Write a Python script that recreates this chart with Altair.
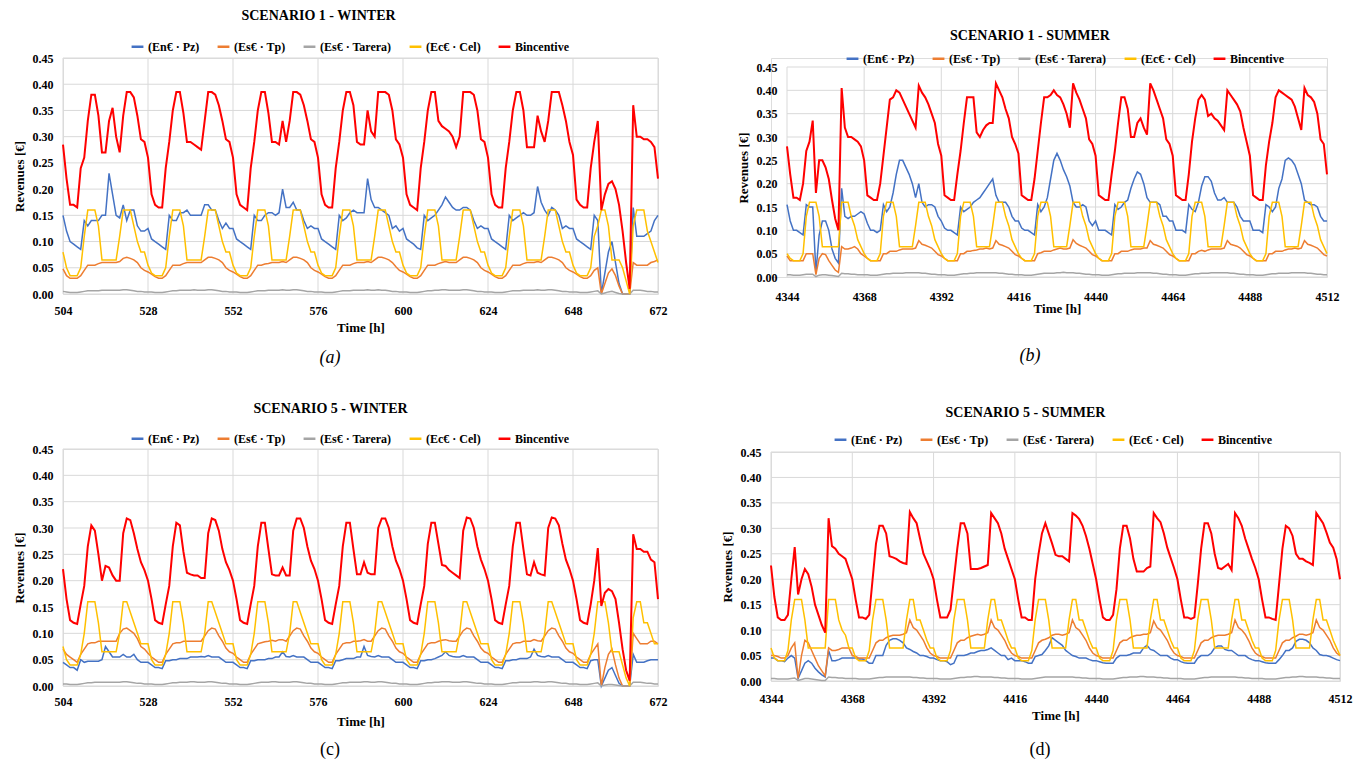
import altair as alt
import pandas as pd

FONT = "Liberation Serif"
SERIES = ["(En€ · Pz)", "(Es€ · Tp)", "(Es€ · Tarera)", "(Ec€ · Cel)", "Bincentive"]
COLORS = ["#4472C4", "#ED7D31", "#A5A5A5", "#FFC000", "#FF0000"]
Y_TICKS = [0.0, 0.05, 0.10, 0.15, 0.20, 0.25, 0.30, 0.35, 0.40, 0.45]
WINTER_TICKS = [504, 528, 552, 576, 600, 624, 648, 672]
SUMMER_TICKS = [4344, 4368, 4392, 4416, 4440, 4464, 4488, 4512]
GRID = "#D9D9D9"

# hourly values, in thousandths of EUR (one row per day, last row ends with the closing hour)
# ---------------- Scenario 1 - Winter ----------------
A_PZ = [
    150,120,100,95,90,85,140,130,140,140,140,150,150,230,190,150,145,170,140,160,160,130,120,120,
    125,105,100,95,90,85,150,140,140,155,155,160,150,150,150,150,170,170,160,160,140,125,135,125,
    125,105,100,95,90,85,150,140,140,150,155,155,150,155,200,165,165,175,160,160,140,125,130,125,
    125,105,100,95,90,85,150,140,145,155,160,155,155,155,220,180,165,165,160,155,150,125,130,120,
    125,105,100,95,88,85,150,140,145,150,160,170,185,175,165,160,160,165,165,160,140,125,130,125,
    125,105,100,95,90,85,150,140,145,150,155,150,150,155,205,175,160,150,165,160,150,125,130,125,
    125,105,100,95,90,85,150,140,0,40,80,100,60,20,0,0,0,165,110,110,110,115,120,140,150]
A_TP = [
    48,35,30,30,30,35,45,55,55,55,58,60,60,60,60,60,62,68,70,68,65,60,50,45,
    42,38,33,30,30,35,45,55,55,55,58,60,60,60,60,60,65,70,70,68,65,60,50,45,
    42,38,33,30,30,35,45,55,55,57,58,60,60,60,62,60,65,70,70,68,65,60,50,45,
    42,38,33,30,30,35,45,55,55,55,58,60,60,60,62,60,65,70,70,68,65,60,52,45,
    42,38,33,30,30,35,45,55,55,55,58,60,62,60,60,60,65,70,70,68,65,60,50,45,
    42,38,33,30,30,35,45,55,55,55,58,60,60,60,62,60,65,70,70,68,65,60,50,45,
    42,38,33,30,30,35,45,50,0,20,40,48,35,15,0,0,0,60,55,55,55,55,60,62,65]
A_TAR = [
    5,4,3,3,3,4,5,6,6,6,6,7,7,7,7,7,7,8,8,7,6,5,5,4,
    4,4,3,3,3,4,5,6,6,7,7,7,7,8,7,7,7,8,8,7,6,5,5,4,
    4,4,3,3,3,4,5,6,6,6,7,7,7,7,8,7,7,8,8,7,6,5,5,4,
    4,4,3,3,3,4,5,6,6,6,7,7,7,7,8,7,7,8,7,7,6,5,5,4,
    4,4,3,3,3,4,5,6,6,7,7,8,8,7,7,7,7,8,8,7,6,5,5,4,
    4,4,3,3,3,4,5,6,6,6,7,7,7,7,8,7,7,8,8,7,6,5,5,4,
    4,4,3,3,3,4,5,6,0,2,4,5,3,1,0,0,0,7,7,7,6,5,5,4,4]
A_CEL = [
    80,50,35,35,35,50,110,160,160,160,130,65,65,65,65,65,110,160,160,160,130,100,80,80,
    55,40,35,35,35,50,110,160,160,160,130,65,65,65,65,65,110,160,160,160,130,100,80,80,
    55,40,35,35,35,50,110,160,160,160,130,65,65,65,65,65,110,160,160,160,130,100,80,80,
    55,40,35,35,35,50,110,160,160,160,130,65,65,65,65,65,110,160,160,160,130,100,80,80,
    55,40,35,35,35,50,110,160,160,160,130,65,65,65,65,65,110,160,160,160,130,100,80,80,
    55,40,35,35,35,50,110,160,160,160,130,65,65,65,65,65,110,160,160,160,130,100,80,80,
    55,40,35,35,35,50,110,130,160,160,130,65,65,65,50,25,0,130,160,160,160,120,100,80,60]
A_BIN = [
    285,220,170,170,165,240,260,330,380,380,340,270,270,330,355,300,270,340,385,385,375,340,295,290,
    260,190,170,165,165,240,290,350,385,385,345,290,290,285,280,275,330,385,385,380,360,330,295,290,
    260,190,170,165,160,240,290,350,385,385,345,290,290,285,330,290,330,385,385,380,360,330,295,290,
    260,190,170,165,165,240,290,350,385,385,360,290,285,285,350,310,300,385,385,385,380,350,295,285,
    260,190,170,165,160,240,290,350,385,385,330,320,315,310,300,280,300,385,385,385,380,350,295,290,
    260,190,170,165,165,240,290,350,385,385,350,280,280,280,340,310,290,330,385,385,385,360,330,290,
    265,180,170,165,165,240,290,330,160,190,210,215,200,170,120,60,10,360,300,300,295,295,290,280,220]

# ---------------- Scenario 1 - Summer ----------------
B_PZ = [
    155,120,100,100,95,90,155,150,150,10,90,120,120,100,60,40,30,190,130,125,130,130,135,140,
    135,115,100,100,95,100,155,140,150,180,220,250,250,235,220,200,170,200,160,150,155,155,150,130,
    120,105,100,100,95,90,150,140,145,150,160,165,170,180,190,200,210,175,160,160,160,150,130,120,
    120,105,100,100,95,90,155,140,150,170,210,250,265,250,230,215,195,160,150,150,155,150,120,110,
    120,100,100,100,95,90,155,145,150,160,165,190,210,225,220,200,170,160,160,160,155,130,130,120,
    120,100,100,100,95,155,145,140,160,195,215,215,205,180,165,165,170,160,160,160,150,130,120,120,
    120,100,100,100,95,155,150,140,150,190,210,250,255,250,240,220,200,165,160,155,155,150,130,120,120]
B_TP = [
    45,35,35,35,35,35,50,50,50,5,40,50,48,35,25,15,10,65,60,60,62,65,60,50,
    45,40,35,35,35,35,50,50,55,55,55,58,60,60,60,60,62,78,70,68,65,62,55,48,
    45,40,35,35,35,35,50,50,55,55,57,58,60,60,62,60,62,78,70,68,65,62,55,48,
    45,40,35,35,35,35,50,52,55,55,55,58,60,62,60,60,62,80,72,68,65,62,55,48,
    45,40,35,35,35,35,50,50,55,55,55,58,60,60,60,62,62,78,70,68,65,62,55,48,
    45,40,35,35,35,35,50,50,55,57,55,58,60,60,60,60,62,78,70,68,66,62,55,48,
    45,40,35,35,35,35,50,50,55,55,55,58,60,60,62,60,62,78,70,68,65,62,55,48,45]
B_TAR = [
    5,5,4,4,4,5,6,6,6,1,4,5,5,4,3,2,1,8,7,7,6,6,5,5,
    5,5,4,4,4,5,6,7,7,8,8,8,8,9,9,9,9,9,8,8,7,6,6,5,
    5,5,4,4,4,5,6,7,7,8,8,9,9,9,9,9,9,9,8,8,7,6,6,5,
    5,5,4,4,4,5,6,7,8,8,8,8,9,9,10,9,9,9,8,8,7,6,6,5,
    5,5,4,4,4,5,6,7,7,8,8,8,8,9,9,9,9,9,8,8,7,6,6,5,
    5,5,4,4,4,5,6,7,7,8,8,8,9,9,9,9,9,9,8,8,7,6,6,5,
    5,5,4,4,4,5,6,7,7,8,8,8,8,9,9,9,9,9,8,8,7,6,6,5,5]
B_CEL = [
    50,40,35,35,35,50,130,160,160,160,130,65,65,65,65,65,65,160,160,160,130,110,80,65,
    50,40,35,35,35,50,130,160,160,160,130,65,65,65,65,65,110,160,160,160,130,110,80,65,
    50,40,35,35,35,50,130,160,160,160,130,65,65,65,65,65,110,160,160,160,130,110,80,65,
    50,40,35,35,35,50,130,160,160,160,130,65,65,65,65,65,110,160,160,160,130,110,80,65,
    50,40,35,35,35,50,130,160,160,160,130,65,65,65,65,65,110,160,160,160,130,110,80,65,
    50,40,35,35,35,50,130,160,160,160,130,65,65,65,65,65,110,160,160,160,130,110,80,65,
    50,40,35,35,35,50,130,160,160,160,130,65,65,65,65,65,110,160,160,160,130,110,80,65,50]
B_BIN = [
    280,220,170,170,165,200,270,290,335,180,250,250,235,210,165,125,100,405,320,300,300,295,290,280,
    250,175,170,165,165,200,260,320,380,385,400,395,380,365,350,335,320,410,395,385,370,350,330,285,
    260,175,170,165,165,220,270,330,385,385,385,310,300,315,325,330,330,415,400,385,360,340,300,285,
    265,175,170,165,165,210,270,330,385,385,390,400,390,385,370,350,320,415,395,380,360,340,295,285,
    260,175,170,165,165,220,270,330,385,385,360,300,300,330,340,320,305,415,400,380,360,340,295,285,
    260,175,170,165,165,220,290,340,380,390,380,345,350,340,335,325,315,400,390,380,370,355,320,290,
    260,175,170,165,165,240,290,330,385,400,395,390,385,380,365,340,315,405,390,385,375,350,295,285,220]

# ---------------- Scenario 5 - Winter ----------------
C_PZ = [
    45,40,35,35,30,50,45,47,47,47,47,50,75,65,55,55,55,60,55,55,60,50,45,45,
    45,40,35,35,33,48,48,50,50,52,52,52,55,55,55,56,55,58,55,55,55,50,45,45,
    45,40,35,35,33,48,48,50,50,50,52,52,55,55,65,56,55,58,55,55,55,50,45,45,
    45,40,35,35,33,48,48,50,52,52,52,55,55,75,58,56,55,58,55,55,55,50,45,45,
    45,40,35,35,33,48,48,50,50,52,55,58,65,58,56,55,55,58,55,55,55,50,45,45,
    45,40,35,35,33,48,48,50,50,52,52,52,55,70,58,56,55,58,55,55,55,50,45,45,
    45,40,35,35,33,48,50,50,0,15,30,35,20,5,0,0,0,60,45,45,45,48,50,50,50]
C_TP = [
    70,60,55,50,45,60,70,80,82,82,85,85,85,85,85,85,100,108,110,105,100,90,75,70,
    62,55,50,45,45,60,70,80,82,82,85,85,85,85,85,85,95,105,110,108,95,85,72,65,
    62,55,50,45,45,60,70,80,82,84,85,87,85,88,88,85,95,105,110,108,95,85,72,65,
    62,55,50,45,45,60,70,80,82,82,85,85,86,88,85,85,95,105,110,108,95,85,72,65,
    62,55,50,45,45,60,70,80,82,82,85,87,88,86,85,85,95,105,110,108,95,85,72,65,
    62,55,50,45,45,60,70,80,82,82,85,85,85,88,86,85,95,105,110,108,95,85,72,65,
    62,55,50,45,45,60,70,80,0,35,60,70,40,15,0,0,0,100,90,80,80,80,85,85,80]
C_TAR = [
    4,4,3,3,3,4,5,6,6,7,7,7,7,7,7,7,7,8,8,7,6,5,5,4,
    4,4,3,3,3,4,5,6,6,7,7,7,8,8,7,7,7,8,8,7,6,5,5,4,
    4,4,3,3,3,4,5,6,7,7,7,8,8,7,7,7,7,8,8,7,6,5,5,4,
    4,4,3,3,3,4,5,6,6,7,7,7,7,8,8,7,7,8,8,7,6,5,5,4,
    4,4,3,3,3,4,5,6,6,7,7,8,8,8,7,7,7,8,8,7,6,5,5,4,
    4,4,3,3,3,4,5,6,6,7,7,7,7,8,8,7,7,8,8,7,6,5,5,4,
    4,4,3,3,3,4,5,6,0,2,3,3,2,1,0,0,0,7,7,7,6,5,5,4,4]
C_CEL = [
    75,50,40,40,40,60,100,160,160,160,120,65,65,65,65,65,100,160,160,140,120,100,80,80,
    80,50,40,40,40,60,100,160,160,160,120,65,65,65,65,65,100,160,160,140,120,100,80,80,
    80,50,40,40,40,60,100,160,160,160,120,65,65,65,65,65,100,160,160,140,120,100,80,80,
    80,50,40,40,40,60,100,160,160,160,120,65,65,65,65,65,100,160,160,140,120,100,80,80,
    80,50,40,40,40,60,100,160,160,160,120,65,65,65,65,65,100,160,160,140,120,100,80,80,
    80,50,40,40,40,60,100,160,160,160,120,65,65,65,65,65,100,160,160,140,120,100,80,80,
    80,50,40,40,40,60,100,160,160,160,120,65,65,65,40,15,0,130,160,160,120,120,100,80,80]
C_BIN = [
    222,165,125,120,118,155,190,265,305,295,250,200,228,225,210,200,200,290,318,315,290,260,235,220,
    200,165,125,120,118,155,190,265,310,305,255,215,212,210,210,205,205,290,318,315,295,260,235,220,
    200,165,125,120,118,155,190,265,310,310,260,212,210,210,225,210,210,295,318,318,300,265,238,222,
    200,165,125,120,118,155,190,265,310,310,260,212,212,235,215,212,212,300,318,318,300,265,238,222,
    200,165,125,120,118,155,190,270,310,310,270,230,228,220,215,210,205,295,320,318,300,265,240,222,
    200,165,125,120,118,155,190,265,310,310,260,212,210,235,215,212,210,300,320,318,305,270,240,222,
    200,165,125,120,118,155,200,262,152,177,184,180,165,120,70,30,10,288,260,260,255,255,240,235,165]

# ---------------- Scenario 5 - Summer ----------------
D_PZ = [
    45,45,40,40,38,45,50,45,5,20,35,40,35,25,18,12,8,60,40,40,42,45,45,45,
    45,45,43,43,40,35,35,50,50,50,70,80,83,83,80,75,65,62,58,55,50,50,48,45,
    45,42,40,40,38,32,35,50,50,50,52,55,55,58,60,60,62,65,60,55,50,50,42,45,
    40,40,40,38,35,35,48,50,52,60,69,85,80,75,70,60,55,50,48,45,45,45,42,40,
    40,38,36,35,35,35,45,50,50,50,52,55,55,55,65,70,62,60,55,50,50,50,45,42,
    42,38,36,35,35,35,45,50,50,50,55,65,69,69,62,60,60,55,50,50,50,45,42,40,
    40,38,36,35,35,35,42,50,60,60,65,78,82,82,80,75,65,60,52,50,50,48,45,42,40]
D_TP = [
    50,50,48,45,45,50,65,75,5,50,80,75,60,45,30,20,10,65,60,60,62,65,65,65,
    50,48,45,45,45,45,60,75,80,80,85,88,90,90,90,92,95,120,105,100,90,80,65,55,
    50,48,45,45,45,45,60,75,80,80,85,88,90,92,90,92,95,120,105,100,90,80,65,55,
    50,48,45,45,45,45,60,75,80,82,85,90,92,92,90,92,95,120,105,100,90,80,65,55,
    50,48,45,45,45,45,60,75,80,80,85,88,90,90,92,92,95,118,105,100,90,80,65,55,
    50,48,45,45,45,45,60,75,80,80,85,88,90,90,90,92,95,120,105,100,92,80,65,55,
    50,48,45,45,45,45,60,75,80,80,85,88,92,92,90,92,95,120,105,100,90,80,65,55,50]
D_TAR = [
    5,5,4,4,4,4,5,6,1,3,5,5,4,3,2,1,1,8,7,7,6,6,5,5,
    5,5,4,4,4,4,5,6,7,7,8,8,8,8,8,8,8,8,7,7,6,6,5,5,
    5,5,4,4,4,4,5,6,7,7,8,8,9,9,8,8,8,8,7,7,6,6,5,5,
    5,5,4,4,4,4,5,6,7,8,8,8,8,8,8,8,8,8,7,7,6,6,5,5,
    5,5,4,4,4,4,5,6,7,7,8,8,8,9,9,8,8,8,7,7,6,6,5,5,
    5,5,4,4,4,4,5,6,7,7,8,8,8,8,8,8,8,8,7,7,6,6,5,5,
    5,5,4,4,4,4,5,6,7,7,8,8,9,9,8,8,8,8,7,7,6,6,5,5,5]
D_CEL = [
    65,45,40,40,40,60,120,160,160,160,120,65,65,65,65,65,65,160,160,160,120,100,90,65,
    65,45,40,40,40,60,120,160,160,160,120,65,65,65,65,65,120,160,160,120,120,100,80,65,
    65,45,40,40,40,60,120,160,160,160,120,65,65,65,65,65,120,160,160,120,120,100,80,65,
    65,45,40,40,40,60,120,160,160,160,120,65,65,65,65,65,120,160,160,120,120,100,80,65,
    65,45,40,40,40,60,120,160,160,160,120,65,65,65,65,65,120,160,160,120,120,100,80,65,
    65,45,40,40,40,60,120,160,160,160,120,65,65,65,65,65,120,160,160,120,120,100,80,65,
    65,45,40,40,40,60,120,160,160,160,120,65,65,65,65,65,120,160,160,120,120,100,80,65,50]
D_BIN = [
    227,165,125,120,120,130,200,263,170,200,220,210,185,150,130,110,95,320,265,260,250,245,240,220,
    200,160,125,125,122,130,200,270,305,305,290,245,243,240,235,232,230,332,320,310,280,250,235,220,
    200,160,125,125,125,140,200,260,310,310,290,220,220,220,222,225,228,330,320,310,290,260,240,220,
    200,160,125,125,120,120,200,250,290,310,290,270,248,245,245,240,235,330,325,318,305,285,260,230,
    200,160,125,120,120,130,180,260,305,305,280,240,215,215,215,222,225,330,320,312,290,262,242,222,
    200,160,125,125,122,125,190,260,310,310,290,250,222,220,225,230,218,330,320,305,280,260,240,222,
    200,160,125,125,122,120,190,260,305,300,285,250,240,240,235,232,228,330,320,310,292,272,262,240,200]


def make_panel(ticks, series, title, caption, italic, w, h, lx, ly, cx, cy, toff, tdx,
               xlp, xtp, ytop=0.45, lband=0):
    """lband: empty pixels to the left of the first tick."""
    rows = []
    for name, vals in zip(SERIES, series):
        assert len(vals) == 169, (title, name, len(vals))
        for i, v in enumerate(vals):
            rows.append({"hour": ticks[0] + i, "value": v / 1000.0, "series": name})
    df = pd.DataFrame(rows)
    span = ticks[-1] - ticks[0]
    x_lo = ticks[0] - span * lband / w
    tw = w + lband

    color = alt.Color(
        "series:N",
        scale=alt.Scale(domain=SERIES, range=COLORS),
        legend=alt.Legend(
            title=None, orient="none", legendX=lx, legendY=ly, direction="horizontal",
            columns=5, symbolType="stroke", symbolStrokeWidth=2.5, symbolSize=140,
            labelFont=FONT, labelFontSize=12, labelFontWeight="bold", labelColor="black",
            columnPadding=12, labelOffset=3, padding=0,
        ),
    )
    xscale = alt.Scale(domain=[x_lo, ticks[-1]], nice=False, zero=False)
    xaxis = alt.Axis(
        values=ticks, format="d", title="Time [h]", titleFont=FONT, titleFontSize=13,
        titleFontWeight="bold", titleColor="black", titlePadding=xtp,
        titleX=lband + w / 2,
        labelFont=FONT, labelFontSize=12, labelFontWeight="bold", labelColor="black",
        labelPadding=xlp, labelFlush=False, ticks=False, grid=False, domain=False,
    )
    yscale = alt.Scale(domain=[0, ytop], nice=False)
    yaxis = alt.Axis(
        values=Y_TICKS, format=".2f", title="Revenues [€]", titleFont=FONT,
        titleFontSize=13, titleFontWeight="bold", titleColor="black", titlePadding=6,
        labelFont=FONT, labelFontSize=12, labelFontWeight="bold", labelColor="black",
        labelPadding=10 - lband, ticks=False, domain=False, grid=False,
    )
    x = alt.X("hour:Q", scale=xscale, axis=xaxis)
    y = alt.Y("value:Q", scale=yscale, axis=yaxis)

    # gridlines drawn as rules, limited to the tick range
    vdf = pd.DataFrame({"hour": ticks, "lo": [Y_TICKS[0]] * len(ticks), "hi": [Y_TICKS[-1]] * len(ticks)})
    vgrid = alt.Chart(vdf).mark_rule(color=GRID, strokeWidth=1).encode(
        x=x, y=alt.Y("lo:Q", scale=yscale, axis=yaxis), y2=alt.Y2("hi:Q"))
    hdf = pd.DataFrame({"v": Y_TICKS, "x0": [ticks[0]] * len(Y_TICKS), "x1": [ticks[-1]] * len(Y_TICKS)})
    hgrid = alt.Chart(hdf).mark_rule(color=GRID, strokeWidth=1).encode(
        y=alt.Y("v:Q", scale=yscale, axis=yaxis), x=alt.X("x0:Q", scale=xscale, axis=xaxis),
        x2=alt.X2("x1:Q"))

    base = alt.Chart(df)
    others = base.transform_filter(alt.datum.series != "Bincentive").mark_line(
        strokeWidth=1.5).encode(x=x, y=y, color=color)
    red = base.transform_filter(alt.datum.series == "Bincentive").mark_line(
        strokeWidth=2).encode(x=x, y=y, color=color)
    cap = alt.Chart(pd.DataFrame({"t": [caption]})).mark_text(
        font=FONT, fontSize=18, fontStyle="italic" if italic else "normal", color="black"
    ).encode(x=alt.value(cx), y=alt.value(cy), text="t:N")
    return alt.layer(vgrid, hgrid, others, red, cap).properties(
        width=tw, height=h,
        title=alt.TitleParams(
            text=title, font=FONT, fontSize=14, fontWeight="bold", color="black",
            anchor="middle", offset=toff, dx=tdx,
        ),
    )


pa = make_panel(WINTER_TICKS, [A_PZ, A_TP, A_TAR, A_CEL, A_BIN], "SCENARIO 1 - WINTER", "(a)", True,
                595, 236, 67, -19, 267, 300, 16, -42, 11, 5)
# panel (b): its plot sits 16 px right of and 9 px below the column origin; that band stays empty
pb = make_panel(SUMMER_TICKS, [B_PZ, B_TP, B_TAR, B_CEL, B_BIN], "SCENARIO 1 - SUMMER", "(b)", True,
                540, 219, 74, -7, 259, 298, 8, -19, 14, 0, ytop=0.45 * 219 / 210, lband=16)
pc = make_panel(WINTER_TICKS, [C_PZ, C_TP, C_TAR, C_CEL, C_BIN], "SCENARIO 5 - WINTER", "(c)", False,
                595, 237, 67, -18, 267, 301, 15, -30, 10, 8)
pd_ = make_panel(SUMMER_TICKS, [D_PZ, D_TP, D_TAR, D_CEL, D_BIN], "SCENARIO 5 - SUMMER", "(d)", False,
                 569, 229, 62, -20, 269, 298, 12, -30, 12, 5)

left = alt.vconcat(pa, pc, spacing=33).resolve_scale(color="independent", x="independent", y="independent").resolve_legend(color="independent")
right = alt.vconcat(pb, pd_, spacing=39).resolve_scale(color="independent", x="independent", y="independent").resolve_legend(color="independent")

chart = alt.hconcat(left, right, spacing=52).resolve_scale(
    color="independent", x="independent", y="independent"
).resolve_legend(color="independent").properties(
    padding={"left": 12, "top": 8, "right": 0, "bottom": 0}
).configure_view(stroke=None).configure(background="white")

chart.save("out.html", embed_options={"renderer": "svg", "actions": False})
